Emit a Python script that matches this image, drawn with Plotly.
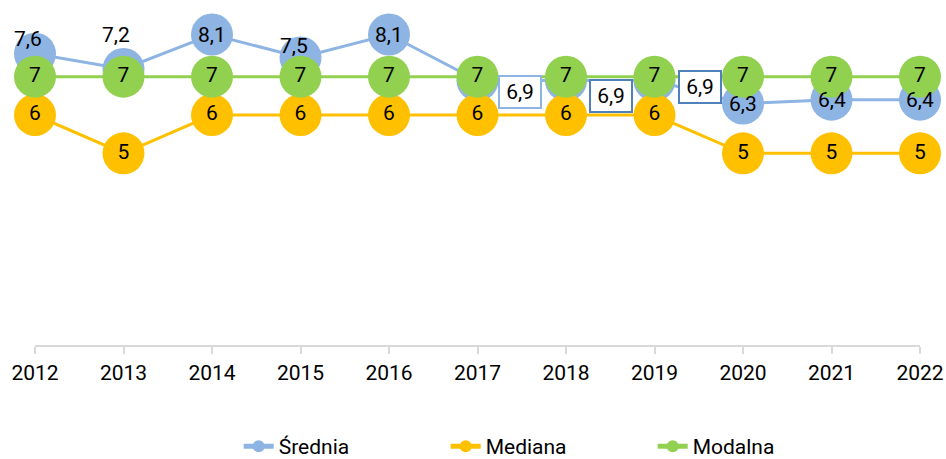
import plotly.graph_objects as go

years = [2012, 2013, 2014, 2015, 2016, 2017, 2018, 2019, 2020, 2021, 2022]
srednia = [7.6, 7.2, 8.1, 7.5, 8.1, 6.9, 6.9, 6.9, 6.3, 6.4, 6.4]
mediana = [6, 5, 6, 6, 6, 6, 6, 6, 5, 5, 5]
modalna = [7, 7, 7, 7, 7, 7, 7, 7, 7, 7, 7]
series_names = ["Średnia", "Mediana", "Modalna"]

# label placement offsets (pixels) for Średnia labels
sr_xshift = [-7, -8, 0, -7, 0, 42, 45, 45, 0, 0, 0]
sr_yshift = [15, 34, 0, 12, 0, -11, -15, -6, 0, 0, 0]
sr_border = [None, None, None, None, None, "#8DB4E2", "#4F81BD", "#4F81BD", None, None, None]

BLUE = "#8DB4E2"
YELLOW = "#FFC000"
GREEN = "#92D050"
FONT = "Roboto"
FS = 21

def fmt(v):
    s = ("%.1f" % v) if v != int(v) else str(int(v))
    return s.replace(".", ",")

fig = go.Figure()
fig.add_trace(go.Scatter(
    x=years, y=srednia, name=series_names[0], mode="lines+markers",
    line=dict(color=BLUE, width=3), marker=dict(color=BLUE, size=42),
    cliponaxis=False))
fig.add_trace(go.Scatter(
    x=years, y=mediana, name=series_names[1], mode="lines+markers+text",
    text=[fmt(v) for v in mediana], textposition="middle center",
    textfont=dict(family=FONT, size=FS, color="black"),
    line=dict(color=YELLOW, width=3), marker=dict(color=YELLOW, size=42),
    cliponaxis=False))
fig.add_trace(go.Scatter(
    x=years, y=modalna, name=series_names[2], mode="lines+markers+text",
    text=[fmt(v) for v in modalna], textposition="middle center",
    textfont=dict(family=FONT, size=FS, color="black"),
    line=dict(color=GREEN, width=3), marker=dict(color=GREEN, size=42),
    cliponaxis=False))

for i, (x, y) in enumerate(zip(years, srednia)):
    ann = dict(x=x, y=y, text=fmt(y), showarrow=False,
               xshift=sr_xshift[i], yshift=sr_yshift[i],
               font=dict(family=FONT, size=FS, color="black"))
    if sr_border[i]:
        ann.update(bordercolor=sr_border[i], borderwidth=2, bgcolor="white",
                   borderpad=2, width=36, height=26)
    fig.add_annotation(**ann)

fig.update_layout(
    width=946, height=459,
    margin=dict(l=35, r=26, t=0, b=114),
    paper_bgcolor="white", plot_bgcolor="white",
    font=dict(family=FONT, size=FS, color="black"),
    showlegend=True,
    legend=dict(orientation="h", x=0.581, xanchor="center",
                yref="container", y=0, yanchor="bottom",
                bgcolor="rgba(0,0,0,0)",
                font=dict(family=FONT, size=FS, color="black"),
                itemsizing="constant", entrywidth=162, entrywidthmode="pixels"),
)
fig.update_xaxes(range=[2012, 2022], tickvals=years, ticktext=[str(y) for y in years],
                 showgrid=False, zeroline=False, showline=True, linecolor="#D9D9D9", linewidth=2,
                 ticks="outside", ticklen=7, tickcolor="#D9D9D9", tickwidth=2,
                 ticklabelstandoff=1,
                 tickfont=dict(family=FONT, size=FS, color="black"), automargin=False)
fig.update_yaxes(range=[0, 9], visible=False, showgrid=False, zeroline=False)

post = """
document.body.style.margin='0';
document.body.style.overflow='hidden';
try {
  var g = document.querySelector('g.legend');
  var t = g.getAttribute('transform');
  var m = t.match(/translate\\(([^,]+),\\s*([^)]+)\\)/);
  g.setAttribute('transform', 'translate(' + m[1] + ',' + (parseFloat(m[2]) + 8) + ')');
} catch (e) {}
"""
fig.write_html("out.html", config={"displayModeBar": False}, post_script=post)
